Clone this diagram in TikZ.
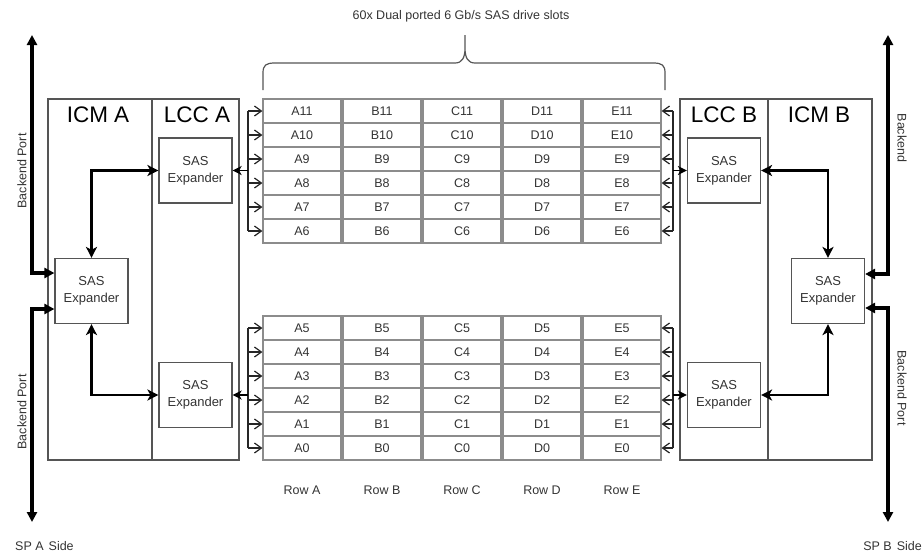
\documentclass[tikz,border=0pt]{standalone}
\usepackage{fontspec}
\setmainfont{Liberation Sans}
\usetikzlibrary{arrows.meta}
\definecolor{boxc}{HTML}{555555}
\definecolor{cellc}{HTML}{8C8C8C}
\definecolor{txtc}{HTML}{333333}
\definecolor{brc}{HTML}{555555}
\begin{document}
\begin{tikzpicture}[x=1pt,y=-1pt]
\tikzset{
 box/.style={draw=boxc, line width=1.2pt, inner sep=0pt},
 expbox/.style={box, minimum width=73pt, minimum height=65pt, align=center, font=\fontsize{13}{17}\selectfont, text=txtc},
 cell/.style={draw=cellc, line width=1.1pt, minimum width=78pt, minimum height=24pt, inner sep=0pt, font=\fontsize{12.5}{14}\selectfont, text=txtc},
 ttl/.style={font=\fontsize{22.5}{26}\selectfont, inner sep=0pt},
 lbl/.style={font=\fontsize{12.5}{15}\selectfont, inner sep=0pt, text=txtc},
 bk/.style={line width=3.5pt, {Triangle[length=10pt,width=10pt]}-{Triangle[length=10pt,width=10pt]}},
 dbl/.style={line width=2.3pt, {Stealth[length=11pt,width=11pt,inset=3pt]}-{Stealth[length=11pt,width=11pt,inset=3pt]}},
 bus/.style={line width=1.3pt, draw=black!85},
 tap/.style={line width=1.2pt, draw=black!85, -{Straight Barb[length=7pt,width=10pt]}},
 feed/.style={line width=1.6pt, -{Stealth[length=9pt,width=9pt,inset=2.5pt]}},
}
\useasboundingbox (0,0) rectangle (924,552);

% outer module boxes
\node[box, minimum width=104pt, minimum height=361pt] (icmA) at (100,279.5) {};
\node[box, minimum width=87pt, minimum height=361pt] (lccA) at (195.5,279.5) {};
\node[box, minimum width=88pt, minimum height=361pt] (lccB) at (724,279.5) {};
\node[box, minimum width=104pt, minimum height=361pt] (icmB) at (820,279.5) {};
\node[ttl] (tIcmA) at (98,115) {ICM A};
\node[ttl] (tLccA) at (197,115) {LCC A};
\node[ttl] (tLccB) at (724,115) {LCC B};
\node[ttl] (tIcmB) at (819,115) {ICM B};

% expanders
\node[expbox] (eAU) at (195.5,170.5) {SAS\\Expander};
\node[expbox] (eAL) at (195.5,395) {SAS\\Expander};
\node[expbox] (eAI) at (91.5,291) {SAS\\Expander};
\node[expbox] (eBU) at (724,170.5) {SAS\\Expander};
\node[expbox] (eBL) at (724,395) {SAS\\Expander};
\node[expbox] (eBI) at (828,291) {SAS\\Expander};

% expander links
\draw[dbl] (eAI.north) |- (eAU.west);
\draw[dbl] (eAI.south) |- (eAL.west);
\draw[dbl] (eBI.north) |- (eBU.east);
\draw[dbl] (eBI.south) |- (eBL.east);

% backend ports
\coordinate (pAt) at (32,35);
\coordinate (pAb) at (32,522);
\coordinate (pBt) at (888,35);
\coordinate (pBb) at (888,522);
\draw[bk] (pAt) |- ([yshift=18pt]eAI.west);
\draw[bk] (pAb) |- ([yshift=-18pt]eAI.west);
\draw[bk] (pBt) |- ([yshift=17pt]eBI.east);
\draw[bk] (pBb) |- ([yshift=-17pt]eBI.east);
\node[lbl, rotate=90] (bpA1) at (22,171) {Backend Port};
\node[lbl, rotate=90] (bpA2) at (22,412) {Backend Port};
\node[lbl, rotate=-90] (bpB1) at (902,138) {Backend};
\node[lbl, rotate=-90] (bpB2) at (902,388) {Backend Port};
\node[lbl, anchor=west] (spA) at (15,546) {SP A\hspace{5pt}Side};
\node[lbl, anchor=east] (spB) at (922,546) {SP B\hspace{5pt}Side};

% drive slots
\foreach \c [count=\i from 0] in {A,B,C,D,E} {
  \foreach \r [count=\j from 0] in {11,10,9,8,7,6} {
    \node[cell] (c\c\r) at (302+80*\i, 111+24*\j) {\c\r};
  }
  \foreach \r [count=\j from 0] in {5,4,3,2,1,0} {
    \node[cell] (c\c\r) at (302+80*\i, 328+24*\j) {\c\r};
  }
  \node[lbl] (row\c) at (302+80*\i, 490) {Row \c};
}

% buses
\coordinate (busL) at (248,0);
\coordinate (busR) at (673,0);
\draw[bus] (cA11.west -| busL) -- (cA6.west -| busL);
\draw[bus] (cA5.west -| busL) -- (cA0.west -| busL);
\draw[bus] (cE11.east -| busR) -- (cE6.east -| busR);
\draw[bus] (cE5.east -| busR) -- (cE0.east -| busR);
\foreach \r in {11,10,9,8,7,6,5,4,3,2,1,0} {
  \draw[tap] (cA\r.west -| busL) -- (cA\r.west);
  \draw[tap] (cE\r.east -| busR) -- (cE\r.east);
}
\draw[feed] (eAU.east -| busL) -- (eAU.east);
\draw[feed] (eAL.east -| busL) -- (eAL.east);
\draw[feed] (eBU.west -| busR) -- (eBU.west);
\draw[feed] (eBL.west -| busR) -- (eBL.west);

% brace and heading
\draw[brc, line width=1.2pt] (263,90) -- (263,73) .. controls (263,65) and (266,63) .. (275,63)
  -- (455,63) .. controls (462,63) and (465,58) .. (465,48) -- (465,35)
  -- (465,48) .. controls (465,58) and (468,63) .. (475,63)
  -- (653,63) .. controls (662,63) and (665,65) .. (665,73) -- (665,90);
\node[lbl] (hdr) at (461,16) {60x Dual ported 6 Gb/s SAS drive slots};
\end{tikzpicture}
\end{document}
